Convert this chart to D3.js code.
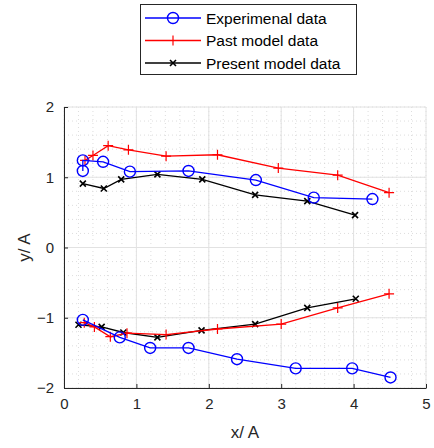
<!DOCTYPE html>
<html>
<head>
<meta charset="utf-8">
<script src="https://cdn.jsdelivr.net/npm/d3@7"></script>
<style>
  body { margin: 0; background: #fff; }
  text { font-family: "Liberation Sans", Arial, sans-serif; }
</style>
</head>
<body>
<div id="chart"></div>
<script>
// data, null splits each series into its upper and lower branch
var seriesNames = ["Experimenal data", "Past model data", "Present model data"];
var seriesColors = ["#0000ff", "#ff0000", "#000000"];
var seriesMarkers = ["circle", "plus", "cross"];

var expX = [0.26, 0.26, 0.54, 0.91, 1.72, 2.65, 3.45, 4.26, null, 0.26, 0.77, 1.19, 1.72, 2.39, 3.2, 3.98, 4.51];
var expY = [1.09, 1.24, 1.22, 1.08, 1.09, 0.96, 0.71, 0.69, null, -1.03, -1.28, -1.43, -1.43, -1.59, -1.72, -1.72, -1.85];

var pastX = [0.29, 0.40, 0.61, 0.89, 1.41, 2.12, 2.96, 3.78, 4.49, null, 0.28, 0.42, 0.64, 0.87, 1.41, 2.12, 3.0, 3.78, 4.49];
var pastY = [1.24, 1.31, 1.45, 1.39, 1.30, 1.32, 1.13, 1.03, 0.78, null, -1.07, -1.13, -1.27, -1.22, -1.24, -1.16, -1.09, -0.86, -0.66];

var presX = [0.26, 0.55, 0.79, 1.29, 1.91, 2.64, 3.36, 4.02, null, 0.2, 0.52, 0.82, 1.29, 1.9, 2.64, 3.36, 4.03];
var presY = [0.91, 0.84, 0.97, 1.04, 0.97, 0.75, 0.66, 0.46, null, -1.1, -1.13, -1.21, -1.28, -1.18, -1.09, -0.86, -0.73];

var xTicks = [0, 1, 2, 3, 4, 5];
var yTicks = [-2, -1, 0, 1, 2];

var svgWidth = 434;
var svgHeight = 448;

var svg = d3.select("#chart")
    .append("svg")
    .attr("width", svgWidth)
    .attr("height", svgHeight);

var x = d3.scaleLinear().domain([0, 5]).range([64, 426]);
var y = d3.scaleLinear().domain([-2, 2]).range([388, 107]);

// minor grid (dotted)
var minorX = d3.range(0, 5.001, 0.2);
var minorY = d3.range(-2, 2.001, 0.2);
var grid = svg.append("g");
grid.selectAll(".mx").data(minorX).enter().append("line")
    .attr("x1", d => x(d)).attr("x2", d => x(d))
    .attr("y1", y(-2)).attr("y2", y(2))
    .attr("stroke", "#d4d4d4").attr("stroke-width", 0.8)
    .attr("stroke-dasharray", "1,3");
grid.selectAll(".my").data(minorY).enter().append("line")
    .attr("y1", d => y(d)).attr("y2", d => y(d))
    .attr("x1", x(0)).attr("x2", x(5))
    .attr("stroke", "#d4d4d4").attr("stroke-width", 0.8)
    .attr("stroke-dasharray", "1,3");
// major grid
grid.selectAll(".gx").data(xTicks).enter().append("line")
    .attr("x1", d => x(d)).attr("x2", d => x(d))
    .attr("y1", y(-2)).attr("y2", y(2))
    .attr("stroke", "#e2e2e2").attr("stroke-width", 1);
grid.selectAll(".gy").data(yTicks).enter().append("line")
    .attr("y1", d => y(d)).attr("y2", d => y(d))
    .attr("x1", x(0)).attr("x2", x(5))
    .attr("stroke", "#e2e2e2").attr("stroke-width", 1);

// axes with inward ticks
var bottomAxis = d3.axisBottom(x).tickValues(xTicks).tickFormat(d3.format("d"))
    .tickSizeInner(-4).tickSizeOuter(0).tickPadding(10);
var leftAxis = d3.axisLeft(y).tickValues(yTicks).tickFormat(d3.format("d"))
    .tickSizeInner(-4).tickSizeOuter(0).tickPadding(10);

var gx = svg.append("g")
    .attr("transform", `translate(0, ${y(-2)})`)
    .call(bottomAxis);
var gy = svg.append("g")
    .attr("transform", `translate(${x(0)}, 0)`)
    .call(leftAxis);

[gx, gy].forEach(function (g) {
    g.select(".domain").attr("stroke", "#262626").attr("stroke-width", 1);
    g.selectAll(".tick line").attr("stroke", "#262626");
    g.selectAll(".tick text")
        .attr("fill", "#262626")
        .style("font-size", "15px")
        .style("font-family", "'Liberation Sans', Arial, sans-serif");
});

svg.append("text")
    .attr("x", x(2.5))
    .attr("y", 438)
    .attr("text-anchor", "middle")
    .attr("font-size", "17px")
    .attr("fill", "#262626")
    .text("x/ A");

svg.append("text")
    .attr("transform", `translate(30, ${y(0)}) rotate(-90)`)
    .attr("text-anchor", "middle")
    .attr("font-size", "17px")
    .attr("fill", "#262626")
    .text("y/ A");

function drawMarker(g, type, cx, cy, color) {
    if (type == "circle") {
        g.append("circle").attr("cx", cx).attr("cy", cy).attr("r", 5.5)
            .attr("fill", "none").attr("stroke", color).attr("stroke-width", 1.4);
    } else if (type == "plus") {
        g.append("path").attr("d", `M${cx - 5},${cy}H${cx + 5}M${cx},${cy - 5}V${cy + 5}`)
            .attr("stroke", color).attr("stroke-width", 1.2);
    } else {
        g.append("path").attr("d", `M${cx - 3},${cy - 3}L${cx + 3},${cy + 3}M${cx - 3},${cy + 3}L${cx + 3},${cy - 3}`)
            .attr("stroke", color).attr("stroke-width", 1.6);
    }
}

var allSeries = [[expX, expY], [pastX, pastY], [presX, presY]];

var line = d3.line()
    .defined(d => d[0] != null)
    .x(d => x(d[0]))
    .y(d => y(d[1]));

// draw black first, then red, then blue on top
[2, 1, 0].forEach(function (i) {
    var pts = allSeries[i][0].map((v, j) => [v, allSeries[i][1][j]]);
    var g = svg.append("g");
    g.append("path")
        .attr("d", line(pts))
        .attr("fill", "none")
        .attr("stroke", seriesColors[i])
        .attr("stroke-width", 1.3);
    pts.filter(d => d[0] != null).forEach(function (d) {
        drawMarker(g, seriesMarkers[i], x(d[0]), y(d[1]), seriesColors[i]);
    });
});

// legend
var legend = svg.append("g");
legend.append("rect")
    .attr("x", 140.5).attr("y", 4.5)
    .attr("width", 216).attr("height", 70)
    .attr("fill", "#fff").attr("stroke", "#262626").attr("stroke-width", 1);

seriesNames.forEach(function (name, i) {
    var ly = 18 + i * 22.5;
    legend.append("line")
        .attr("x1", 145).attr("x2", 201)
        .attr("y1", ly).attr("y2", ly)
        .attr("stroke", seriesColors[i]).attr("stroke-width", 1.3);
    drawMarker(legend, seriesMarkers[i], 173, ly, seriesColors[i]);
    legend.append("text")
        .attr("x", 206).attr("y", ly + 5.5)
        .attr("font-size", "15.5px")
        .attr("fill", "#000")
        .text(name);
});
</script>
</body>
</html>
